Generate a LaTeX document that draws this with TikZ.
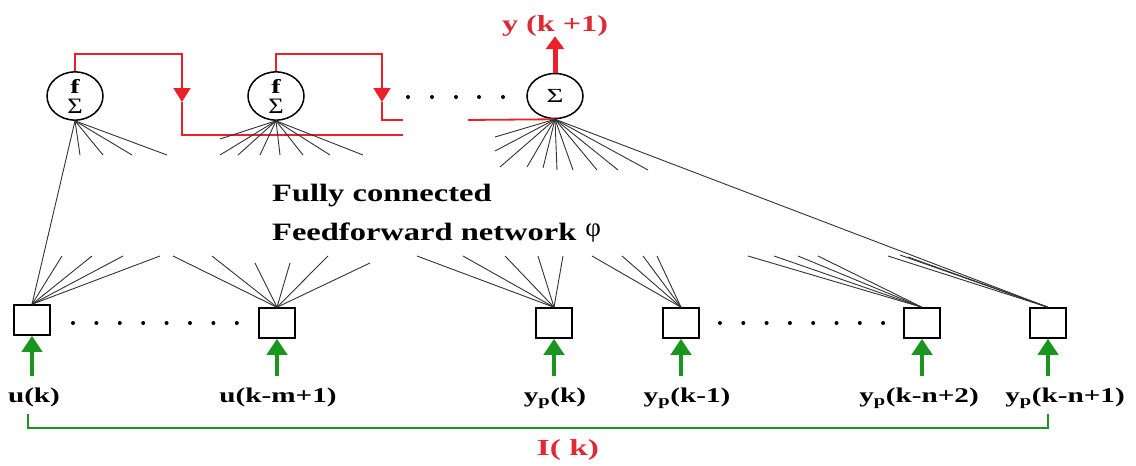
\documentclass[tikz,border=0pt]{standalone}
\usepackage{fontspec}
\setmainfont{Liberation Serif}
\usetikzlibrary{arrows.meta,shapes.geometric}

\definecolor{fbred}{RGB}{235,32,40}
\definecolor{labred}{RGB}{222,42,52}
\definecolor{ingreen}{RGB}{26,150,30}
\definecolor{wirecol}{RGB}{50,50,50}

% horizontally widened bold lettering
\newcommand{\widetxt}[2]{\scalebox{#1}[1]{#2}}
% activation symbol and summation sign of a neuron
\newcommand{\actf}{{\fontsize{20}{20}\selectfont\bfseries\scalebox{1.4}[1]{f}}}
\newcommand{\sumsign}{{\fontsize{22}{20}\selectfont\scalebox{1.2}[1]{Σ}}}

\begin{document}
\begin{tikzpicture}[x=1pt,y=-1pt,
  neuron/.style={draw, line width=1.5pt, ellipse, minimum width=56pt,
    minimum height=45pt, inner sep=0pt, align=center,
    font=\fontsize{22}{20}\selectfont},
  tapbox/.style={draw, line width=1.5pt, minimum width=36pt,
    minimum height=30pt, inner sep=0pt},
  wire/.style={draw=wirecol, line width=0.9pt},
  fbline/.style={draw=fbred, line width=1.8pt},
  fbtip/.style={-{Triangle[length=14pt,width=17pt]}},
  inarrow/.style={draw=ingreen, line width=4pt,
    -{Triangle[length=16pt,width=20pt]}},
  tapline/.style={draw=ingreen, line width=1.8pt},
  inlabel/.style={anchor=base, inner sep=0pt,
    font=\fontsize{21}{24}\selectfont\bfseries},
  redlabel/.style={anchor=base, inner sep=0pt, text=labred,
    font=\fontsize{23}{26}\selectfont\bfseries},
  netlabel/.style={anchor=base west, inner sep=0pt,
    font=\fontsize{25}{28}\selectfont\bfseries},
]
\useasboundingbox (0,0) rectangle (1136,466);

% ---- output layer neurons ----
\node[neuron] (n1) at (75,96) {\actf\\\sumsign};
\node[neuron] (n2) at (276,96) {\actf\\\sumsign};
\node[neuron] (n3) at (555,96)
  {\raisebox{-5pt}{\fontsize{20}{20}\selectfont\scalebox{1.45}[1]{Σ}}};

% ---- tapped delay line inputs ----
\node[tapbox] (b1) at (32,320) {};
\node[tapbox] (b2) at (277,323) {};
\node[tapbox] (b3) at (554,323) {};
\node[tapbox] (b4) at (681,323) {};
\node[tapbox] (b5) at (922,323) {};
\node[tapbox] (b6) at (1048,323) {};

% ---- recurrent feedback paths ----
\coordinate (fa1) at (182,54);
\coordinate (ft1) at (182,102);
\coordinate (fe1) at (403,135);
\coordinate (fa2) at (382,54);
\coordinate (ft2) at (382,102);
\coordinate (fe2) at (403,120);
\coordinate (fs3) at (468,120);
\draw[fbline,fbtip] (n1.north) |- (fa1) -- (ft1);
\draw[fbline] (ft1) |- (fe1);
\draw[fbline,fbtip] (n2.north) |- (fa2) -- (ft2);
\draw[fbline] (ft2) |- (fe2);
\draw[fbline] (fs3) -- (n3.south);

% ---- network output ----
\node[redlabel] (yout) at (555,31) {\widetxt{1.4}{y (k +1)}};
\draw[draw=fbred, line width=5pt, -{Triangle[length=13pt,width=18pt]}]
  (n3.north) -- (yout.south);

% ---- ellipsis marks ----
\foreach \x in {408,432,456,479,503} \fill (\x,97) circle (2pt);
\foreach \i in {0,...,7} \fill ({73+23.4*\i},323) circle (2pt);
\foreach \i in {0,...,7} \fill ({720+23.3*\i},323) circle (2pt);

% ---- fan-in of the output neurons ----
\foreach \x/\y [count=\i] in {80/155,103/155,132/155,167/155}
  {\coordinate (n1f\i) at (\x,\y); \draw[wire] (n1.south) -- (n1f\i);}
\foreach \x/\y [count=\i] in {220/139,220/155,238/155,260/155,280/155,303/155,330/155,363/155}
  {\coordinate (n2f\i) at (\x,\y); \draw[wire] (n2.south) -- (n2f\i);}
\foreach \x/\y [count=\i] in {495/137,495/151,500/167,527/167,543/168,557/170,573/170,597/170,618/170,648/170}
  {\coordinate (n3f\i) at (\x,\y); \draw[wire] (n3.south) -- (n3f\i);}
\draw[wire] (n1.south) -- (b1.north);
\draw[wire] (n3.south) -- (b6.north);

% ---- fan-out of the input taps ----
\foreach \x/\y [count=\i] in {62/256,92/256,123/256,160/256}
  {\coordinate (b1f\i) at (\x,\y); \draw[wire] (b1.north) -- (b1f\i);}
\foreach \x/\y [count=\i] in {173/256,212/256,255/263,290/263,328/256,370/263}
  {\coordinate (b2f\i) at (\x,\y); \draw[wire] (b2.north) -- (b2f\i);}
\foreach \x/\y [count=\i] in {417/256,463/256,505/256,538/256,563/256}
  {\coordinate (b3f\i) at (\x,\y); \draw[wire] (b3.north) -- (b3f\i);}
\foreach \x/\y [count=\i] in {592/256,622/256,643/256,657/256}
  {\coordinate (b4f\i) at (\x,\y); \draw[wire] (b4.north) -- (b4f\i);}
\foreach \x/\y [count=\i] in {748/256,774/256,798/256,818/256}
  {\coordinate (b5f\i) at (\x,\y); \draw[wire] (b5.north) -- (b5f\i);}
\foreach \x/\y [count=\i] in {888/256,900/255,908/257}
  {\coordinate (b6f\i) at (\x,\y); \draw[wire] (b6.north) -- (b6f\i);}

% ---- network caption ----
\node[netlabel] (cap1) at (272,201) {\widetxt{1.3}{Fully connected}};
\node[netlabel] (cap2) at (272,240)
  {\widetxt{1.3}{Feedforward network}\hspace{9pt}{\mdseries\fontsize{27}{28}\selectfont\raisebox{4pt}{φ}}};

% ---- input signals ----
\coordinate (g1) at (32,376);
\coordinate (g2) at (277,376);
\coordinate (g3) at (554,376);
\coordinate (g4) at (681,376);
\coordinate (g5) at (922,376);
\coordinate (g6) at (1048,376);
\draw[inarrow] (g1) -- (b1.south);
\draw[inarrow] (g2) -- (b2.south);
\draw[inarrow] (g3) -- (b3.south);
\draw[inarrow] (g4) -- (b4.south);
\draw[inarrow] (g5) -- (b5.south);
\draw[inarrow] (g6) -- (b6.south);

\node[inlabel] (l1) at (34,402) {\widetxt{1.39}{u(k)}};
\node[inlabel] (l2) at (278,402) {\widetxt{1.39}{u(k-m+1)}};
\node[inlabel] (l3) at (555,402) {\widetxt{1.39}{y\textsubscript{p}(k)}};
\node[inlabel] (l4) at (687,402) {\widetxt{1.39}{y\textsubscript{p}(k-1)}};
\node[inlabel] (l5) at (919,402) {\widetxt{1.39}{y\textsubscript{p}(k-n+2)}};
\node[inlabel] (l6) at (1065,402) {\widetxt{1.39}{y\textsubscript{p}(k-n+1)}};

% ---- regressor bracket ----
\coordinate (gL) at (28,414);
\coordinate (gR) at (1048,414);
\draw[tapline] (gL) -- ++(0,14) -| (gR);
\node[redlabel] (ik) at (568,455) {\widetxt{1.45}{I( k)}};
\end{tikzpicture}
\end{document}
